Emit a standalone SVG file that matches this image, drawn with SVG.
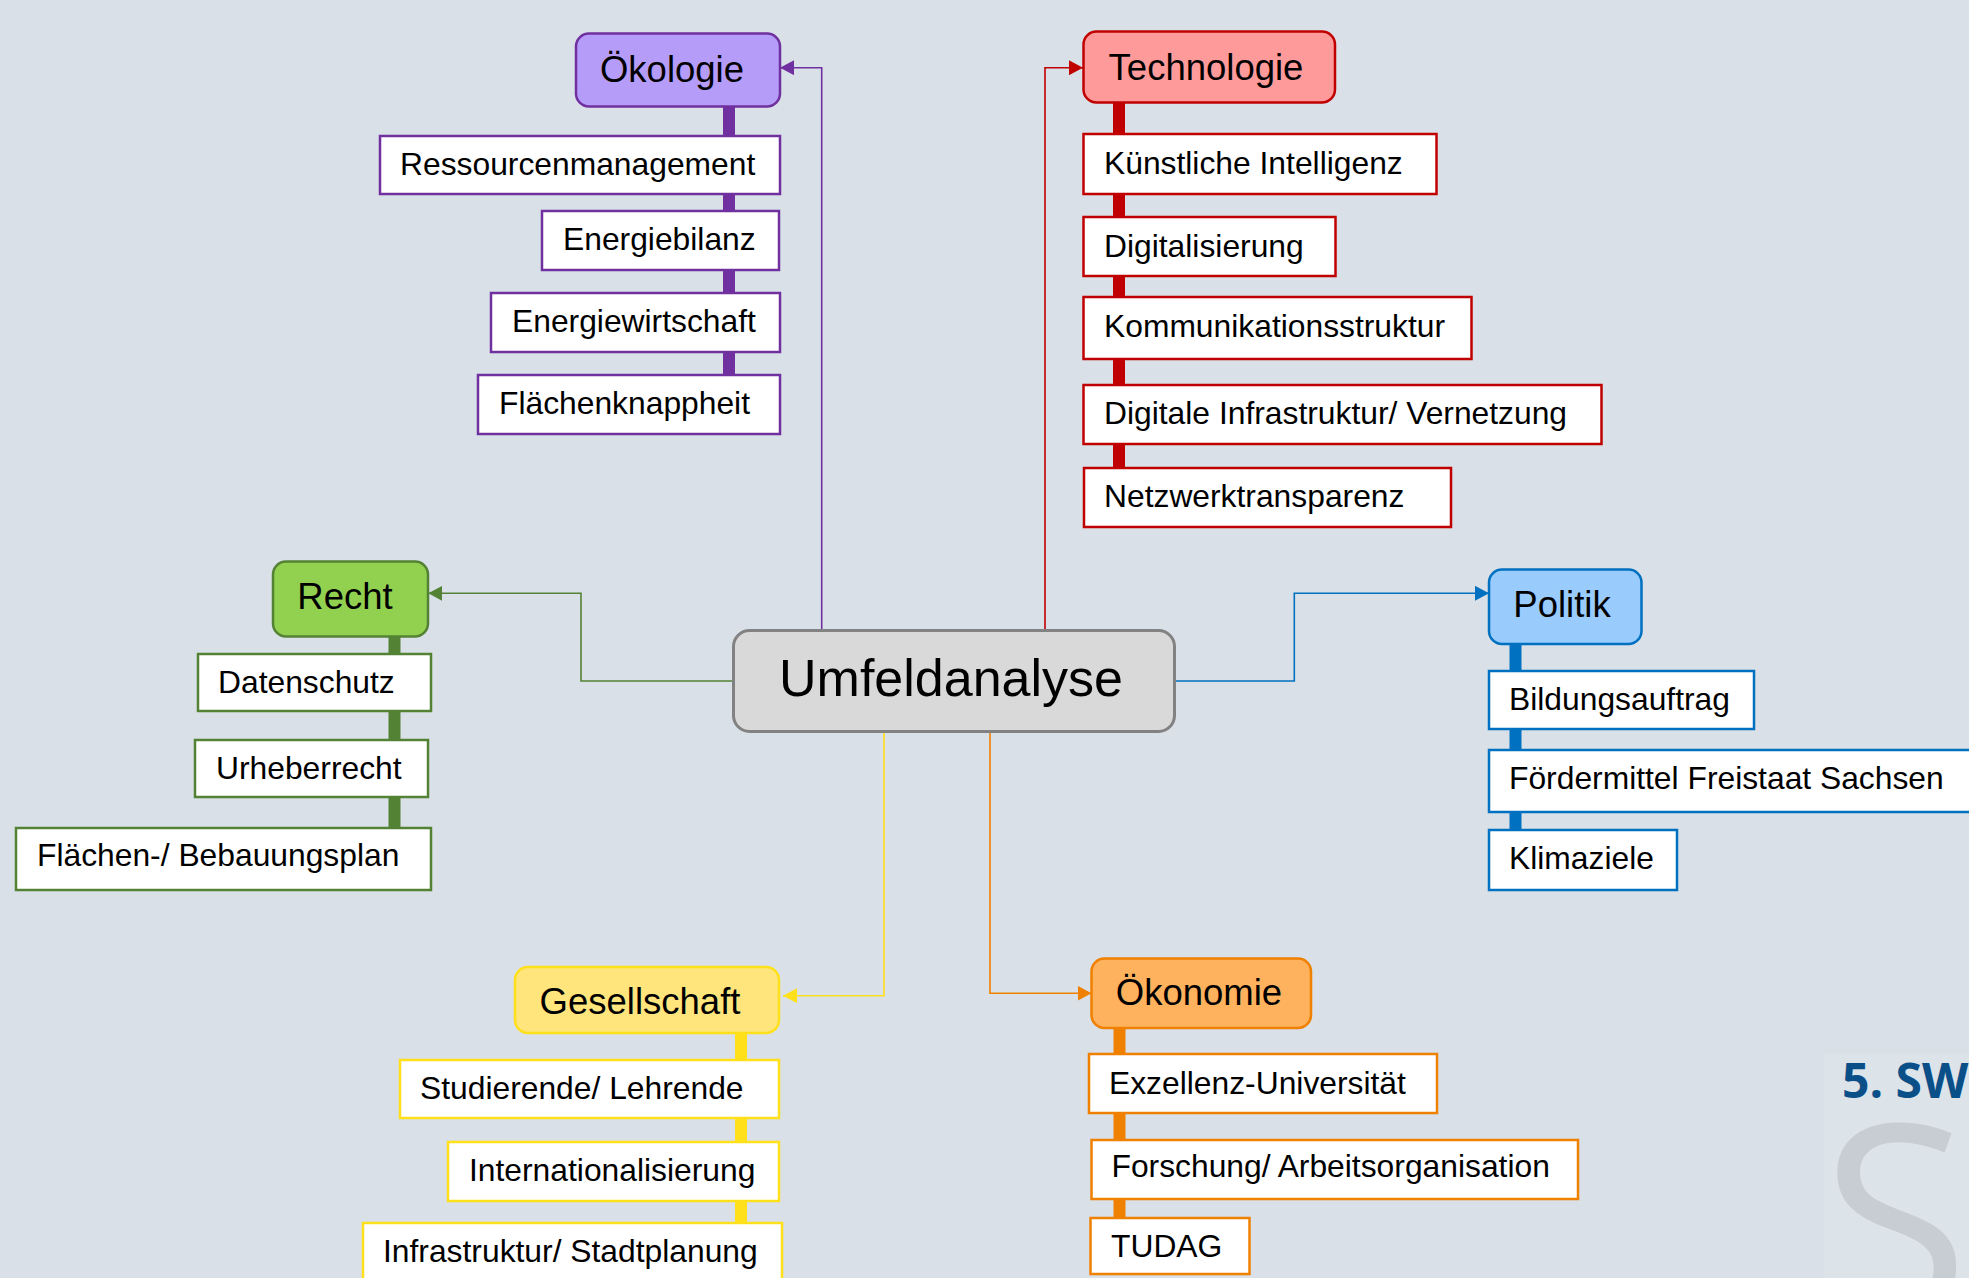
<svg xmlns="http://www.w3.org/2000/svg" width="1969" height="1278" viewBox="0 0 1969 1278">
<defs>
<style>
text{font-family:"Liberation Sans",Arial,sans-serif;fill:#000}
.main{font-size:36.5px;text-anchor:middle}
.item{font-size:31.8px}
.c{fill:#fff;stroke-width:2.5}
.n{stroke-width:2.5}
.conn{fill:none;stroke-width:1.6}
</style>
<marker id="aP" markerUnits="userSpaceOnUse" markerWidth="15" markerHeight="15" refX="14" refY="7.5" orient="auto"><path d="M0,0 L14,7.5 L0,15 z" fill="#7030a0"/></marker>
<marker id="aR" markerUnits="userSpaceOnUse" markerWidth="15" markerHeight="15" refX="14" refY="7.5" orient="auto"><path d="M0,0 L14,7.5 L0,15 z" fill="#c00000"/></marker>
<marker id="aG" markerUnits="userSpaceOnUse" markerWidth="15" markerHeight="15" refX="14" refY="7.5" orient="auto"><path d="M0,0 L14,7.5 L0,15 z" fill="#548235"/></marker>
<marker id="aB" markerUnits="userSpaceOnUse" markerWidth="15" markerHeight="15" refX="14" refY="7.5" orient="auto"><path d="M0,0 L14,7.5 L0,15 z" fill="#0070c0"/></marker>
<marker id="aY" markerUnits="userSpaceOnUse" markerWidth="15" markerHeight="15" refX="14" refY="7.5" orient="auto"><path d="M0,0 L14,7.5 L0,15 z" fill="#ffe01a"/></marker>
<marker id="aO" markerUnits="userSpaceOnUse" markerWidth="15" markerHeight="15" refX="14" refY="7.5" orient="auto"><path d="M0,0 L14,7.5 L0,15 z" fill="#f08000"/></marker>
</defs>
<rect x="0" y="0" width="1969" height="1278" fill="#d9e0e7"/>
<g id="logo">
<rect x="1824" y="1054" width="150" height="230" fill="#dce3e9"/>
<text x="1821" y="1318" style="font-family:'Open Sans',sans-serif;font-size:270px;fill:#c7cdd2">S</text>
<text x="1842" y="1098" style="font-family:'Open Sans',sans-serif;font-weight:bold;font-size:48px;fill:#0b4f88">5. SW</text>
</g>
<g id="connectors">
<path class="conn" stroke="#7030a0" d="M821.7,630 V67.7 H780" marker-end="url(#aP)"/>
<path class="conn" stroke="#c00000" d="M1045,630 V67.7 H1083" marker-end="url(#aR)"/>
<path class="conn" stroke="#548235" d="M733,681 H581 V593.3 H428.3" marker-end="url(#aG)"/>
<path class="conn" stroke="#0070c0" d="M1175,681 H1294.3 V593.3 H1489" marker-end="url(#aB)"/>
<path class="conn" stroke="#ffe01a" d="M884,732 V995.7 H783" marker-end="url(#aY)"/>
<path class="conn" stroke="#f08000" d="M990,732 V993.3 H1091.5" marker-end="url(#aO)"/>
</g>
<g id="center">
<rect x="733.5" y="630.5" width="441" height="101" rx="16" fill="#d9d9d9" stroke="#828282" stroke-width="3"/>
<text x="951" y="696" style="font-size:52px;text-anchor:middle">Umfeldanalyse</text>
</g>
<g id="oekologie">
<rect x="723" y="100" width="12" height="330" fill="#7030a0"/>
<rect class="n" x="576" y="33.5" width="204" height="73" rx="13" fill="#b59cf8" stroke="#7030a0"/>
<text class="main" x="672" y="82">Ökologie</text>
<g id="oek1"><rect class="c" x="380" y="136" width="400" height="58" stroke="#7030a0"/><text class="item" x="400" y="175">Ressourcenmanagement</text></g>
<g id="oek2"><rect class="c" x="542" y="211" width="237" height="59" stroke="#7030a0"/><text class="item" x="563" y="250">Energiebilanz</text></g>
<g id="oek3"><rect class="c" x="491" y="293" width="289" height="59" stroke="#7030a0"/><text class="item" x="512" y="332">Energiewirtschaft</text></g>
<g id="oek4"><rect class="c" x="478" y="375" width="302" height="59" stroke="#7030a0"/><text class="item" x="499" y="414">Flächenknappheit</text></g>
</g>
<g id="technologie">
<rect x="1113" y="100" width="12" height="375" fill="#c00000"/>
<rect class="n" x="1083.5" y="31.5" width="251.5" height="71" rx="13" fill="#ff9a9a" stroke="#c00000"/>
<text class="main" x="1206" y="80">Technologie</text>
<g id="tec1"><rect class="c" x="1083.5" y="134" width="353" height="60" stroke="#c00000"/><text class="item" x="1104" y="174">Künstliche Intelligenz</text></g>
<g id="tec2"><rect class="c" x="1083.5" y="217" width="252" height="59" stroke="#c00000"/><text class="item" x="1104" y="256.5">Digitalisierung</text></g>
<g id="tec3"><rect class="c" x="1083.5" y="297" width="388" height="62" stroke="#c00000"/><text class="item" x="1104" y="336.5">Kommunikationsstruktur</text></g>
<g id="tec4"><rect class="c" x="1083.5" y="385" width="518" height="59" stroke="#c00000"/><text class="item" x="1104" y="423.5">Digitale Infrastruktur/ Vernetzung</text></g>
<g id="tec5"><rect class="c" x="1084" y="468" width="367" height="59" stroke="#c00000"/><text class="item" x="1104" y="506.5">Netzwerktransparenz</text></g>
</g>
<g id="recht">
<rect x="388.5" y="630" width="12" height="200" fill="#548235"/>
<rect class="n" x="273" y="561.5" width="155" height="75" rx="13" fill="#92d050" stroke="#548235"/>
<text class="main" x="345" y="608.5">Recht</text>
<g id="rec1"><rect class="c" x="198" y="654" width="233" height="57" stroke="#548235"/><text class="item" x="218" y="693">Datenschutz</text></g>
<g id="rec2"><rect class="c" x="195" y="740" width="233" height="57" stroke="#548235"/><text class="item" x="216" y="778.5">Urheberrecht</text></g>
<g id="rec3"><rect class="c" x="16" y="828" width="415" height="62" stroke="#548235"/><text class="item" x="37" y="866">Flächen-/ Bebauungsplan</text></g>
</g>
<g id="politik">
<rect x="1509.5" y="640" width="12" height="195" fill="#0070c0"/>
<rect class="n" x="1489" y="569.5" width="152.5" height="74.5" rx="13" fill="#99cbfd" stroke="#0070c0"/>
<text class="main" x="1562" y="617">Politik</text>
<g id="pol1"><rect class="c" x="1489" y="671" width="265" height="58" stroke="#0070c0"/><text class="item" x="1509" y="710">Bildungsauftrag</text></g>
<g id="pol2"><rect class="c" x="1489" y="750" width="500" height="62" stroke="#0070c0"/><text class="item" x="1509" y="788.5">Fördermittel Freistaat Sachsen</text></g>
<g id="pol3"><rect class="c" x="1489" y="830" width="188" height="60" stroke="#0070c0"/><text class="item" x="1509" y="868.5">Klimaziele</text></g>
</g>
<g id="gesellschaft">
<rect x="735" y="1030" width="12" height="200" fill="#ffe01a"/>
<rect class="n" x="515" y="967" width="264" height="66" rx="13" fill="#ffe57c" stroke="#ffe01a"/>
<text class="main" x="640" y="1014">Gesellschaft</text>
<g id="ges1"><rect class="c" x="400" y="1060" width="379" height="58" stroke="#ffe01a"/><text class="item" x="420" y="1098.5">Studierende/ Lehrende</text></g>
<g id="ges2"><rect class="c" x="448" y="1142" width="331" height="59" stroke="#ffe01a"/><text class="item" x="469" y="1180.5">Internationalisierung</text></g>
<g id="ges3"><rect class="c" x="363" y="1223" width="419" height="70" stroke="#ffe01a"/><text class="item" x="383" y="1262">Infrastruktur/ Stadtplanung</text></g>
</g>
<g id="oekonomie">
<rect x="1113.5" y="1025" width="12" height="195" fill="#f08000"/>
<rect class="n" x="1091.5" y="958.5" width="219.5" height="69.5" rx="13" fill="#ffb25d" stroke="#f08000"/>
<text class="main" x="1199" y="1005">Ökonomie</text>
<g id="eco1"><rect class="c" x="1089" y="1054" width="348" height="59" stroke="#f08000"/><text class="item" x="1109" y="1093.5">Exzellenz-Universität</text></g>
<g id="eco2"><rect class="c" x="1091.5" y="1140" width="486.5" height="59" stroke="#f08000"/><text class="item" x="1111.5" y="1177">Forschung/ Arbeitsorganisation</text></g>
<g id="eco3"><rect class="c" x="1090.5" y="1218" width="159" height="56" stroke="#f08000"/><text class="item" x="1111" y="1257">TUDAG</text></g>
</g>
</svg>
